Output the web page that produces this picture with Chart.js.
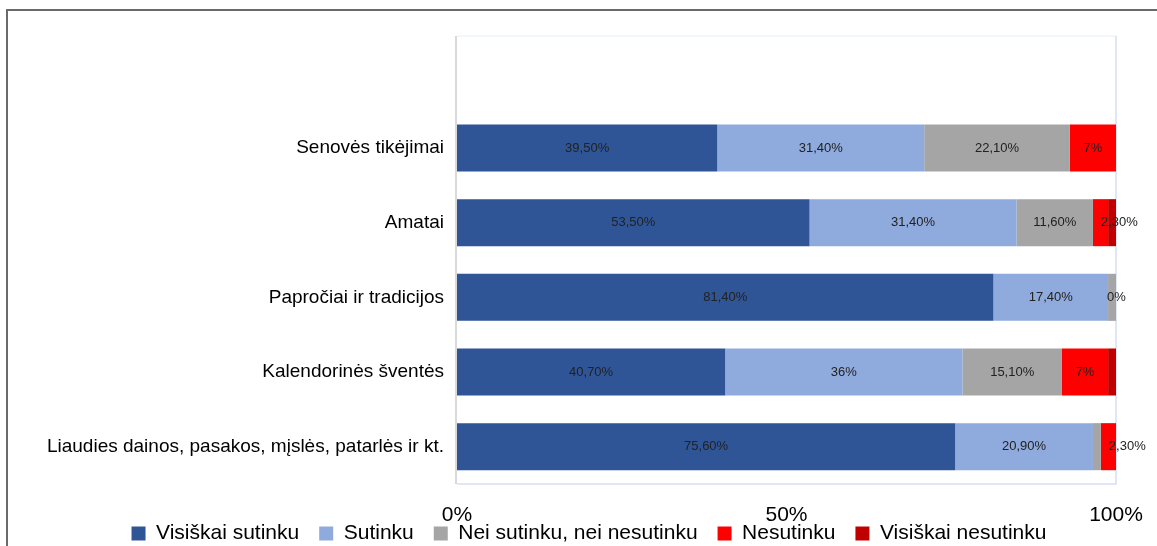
<!DOCTYPE html>
<html>
<head>
<meta charset="utf-8">
<script src="https://cdn.jsdelivr.net/npm/chart.js@4.4.1/dist/chart.umd.min.js"></script>
<style>
  html, body { margin: 0; padding: 0; background: #fff; overflow: hidden; }
  #frame { position: absolute; left: 6px; top: 9px; width: 1200px; height: 600px; border: 2px solid #6a6a6a; }
  #c { position: absolute; left: 0; top: 0; }
</style>
</head>
<body>
<div id="frame"></div>
<canvas id="c" width="1157" height="546"></canvas>
<script>
// first category is empty (Excel leaves a blank row at the top)
const categories = ['', 'Senovės tikėjimai', 'Amatai', 'Papročiai ir tradicijos', 'Kalendorinės šventės', 'Liaudies dainos, pasakos, mįslės, patarlės ir kt.'];
const seriesNames = ['Visiškai sutinku', 'Sutinku', 'Nei sutinku, nei nesutinku', 'Nesutinku', 'Visiškai nesutinku'];
const visiskaiSutinku = [null, 39.5, 53.5, 81.4, 40.7, 75.6];
const sutinku = [null, 31.4, 31.4, 17.4, 36, 20.9];
const neiNei = [null, 22.1, 11.6, 1.2, 15.1, 1.2];
const nesutinku = [null, 7, 2.3, 0, 7, 2.3];
const visiskaiNesutinku = [null, null, 1.2, null, 1.2, null];
const colors = ['#2F5597', '#8FAADC', '#A5A5A5', '#FF0000', '#C00000'];
const xTicks = [0, 50, 100];

const FONT = '"Liberation Sans", Arial, sans-serif';
const fmt = v => Number.isInteger(v) ? v + '%' : v.toFixed(2).replace('.', ',') + '%';

// labels inside the segments, like Excel data labels
const segLabels = {
  id: 'segLabels',
  afterDatasetsDraw(chart) {
    const ctx = chart.ctx;
    ctx.save();
    ctx.font = '13px ' + FONT;
    ctx.fillStyle = '#222';
    ctx.textBaseline = 'middle';
    chart.data.datasets.forEach((ds, i) => {
      chart.getDatasetMeta(i).data.forEach((bar, j) => {
        const v = ds.data[j];
        if (v == null || (v !== 0 && v < 2)) return;
        const w = Math.abs(bar.x - bar.base);
        const t = fmt(v);
        if (w < ctx.measureText(t).width) {
          ctx.textAlign = 'left';
          ctx.fillText(t, Math.min(bar.x, bar.base) + (v === 0 ? -9 : 8), bar.y);
        } else {
          ctx.textAlign = 'center';
          ctx.fillText(t, (bar.x + bar.base) / 2, bar.y);
        }
      });
    });
    ctx.restore();
  }
};

// plot area outline
const plotBox = {
  id: 'plotBox',
  beforeDatasetsDraw(chart) {
    const { ctx, chartArea: a } = chart;
    ctx.save();
    ctx.lineWidth = 1.5;
    ctx.strokeStyle = '#eef4fb';
    ctx.beginPath(); ctx.moveTo(a.left, a.top); ctx.lineTo(a.right, a.top); ctx.stroke();
    ctx.strokeStyle = '#d4e0f0';
    ctx.beginPath(); ctx.moveTo(a.right, a.top); ctx.lineTo(a.right, a.bottom); ctx.lineTo(a.left, a.bottom); ctx.stroke();
    ctx.lineWidth = 2;
    ctx.strokeStyle = '#d9d9d9';
    ctx.beginPath(); ctx.moveTo(a.left - 1, a.top); ctx.lineTo(a.left - 1, a.bottom); ctx.stroke();
    ctx.restore();
  }
};

// legend sits partly over the axis labels, as in the original
const moveLegend = {
  id: 'moveLegend',
  afterLayout(chart) {
    const lg = chart.legend;
    lg.top = 503; lg.bottom = 546; lg.height = 43;
    lg.left += 31; lg.right += 31;
  }
};

const data = [visiskaiSutinku, sutinku, neiNei, nesutinku, visiskaiNesutinku];

new Chart(document.getElementById('c'), {
  type: 'bar',
  data: {
    labels: categories,
    datasets: data.map((d, i) => ({
      label: seriesNames[i],
      data: d,
      backgroundColor: colors[i],
      borderWidth: 0,
      barPercentage: 0.63,
      categoryPercentage: 1
    }))
  },
  options: {
    indexAxis: 'y',
    responsive: false,
    animation: false,
    layout: { padding: { left: 0, right: 41, top: 36, bottom: 0 } },
    scales: {
      x: {
        stacked: true,
        min: 0,
        max: 100,
        afterBuildTicks: s => { s.ticks = xTicks.map(v => ({ value: v })); },
        afterFit: s => { s.height = 48; s.paddingLeft = 0; s.paddingRight = 0; },
        grid: { display: false, drawTicks: false },
        border: { display: false },
        ticks: {
          padding: 19,
          color: '#000',
          font: { family: FONT, size: 21 },
          callback: v => v + '%',
          maxRotation: 0,
          autoSkip: false
        }
      },
      y: {
        stacked: true,
        afterFit: s => { s.width = 457; },
        grid: { display: false, drawTicks: false },
        border: { display: false },
        ticks: {
          padding: 13,
          color: '#000',
          font: { family: FONT, size: 19 }
        }
      }
    },
    plugins: {
      legend: {
        position: 'bottom',
        maxHeight: 14,
        labels: {
          boxWidth: 14,
          boxHeight: 14,
          padding: 20,
          color: '#000',
          font: { family: FONT, size: 21 }
        }
      },
      tooltip: { enabled: false }
    }
  },
  plugins: [plotBox, segLabels, moveLegend]
});
</script>
</body>
</html>
